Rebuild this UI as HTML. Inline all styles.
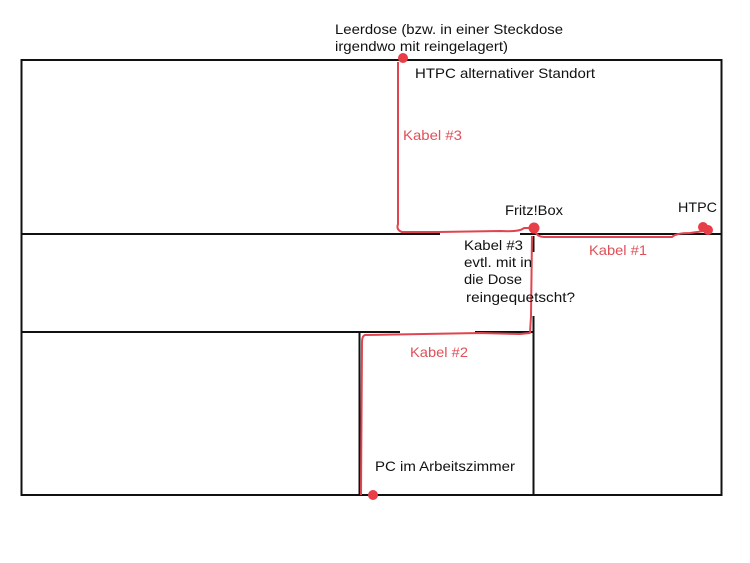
<!DOCTYPE html>
<html><head><meta charset="utf-8"><style>
html,body{margin:0;padding:0;background:#fff;}
svg{display:block;}
text{font-family:"Liberation Sans",Arial,sans-serif;font-size:14px;}
.r{fill:#e05058;}
.b{fill:#111;}
</style></head><body>
<svg width="750" height="563" viewBox="0 0 750 563" xmlns="http://www.w3.org/2000/svg">
<rect width="750" height="563" fill="#fff"/>
<g stroke="#111" stroke-width="2" fill="none">
  <line x1="21" y1="60" x2="722" y2="60"/>
  <line x1="21.5" y1="59" x2="21.5" y2="496"/>
  <line x1="721.5" y1="59" x2="721.5" y2="496"/>
  <line x1="21" y1="495" x2="722" y2="495"/>
  <line x1="21" y1="234" x2="440" y2="234"/>
  <line x1="520" y1="234" x2="722" y2="234"/>
  <line x1="21" y1="332" x2="400" y2="332"/>
  <line x1="475" y1="332" x2="534" y2="332"/>
  <line x1="359.5" y1="331" x2="359.5" y2="496"/>
  <line x1="533.5" y1="316" x2="533.5" y2="496"/>
  <line x1="533.5" y1="236" x2="533.5" y2="252"/>
</g>
<g stroke="#e0454f" stroke-width="2" fill="none" stroke-linejoin="round">
  <path d="M398,62 L398,224 Q396,230 402,232 L438,232 L500,231 Q520,232 524,228 L530,228"/>
  <path d="M535,230 Q536,237 545,237 L672,237 Q676,233 690,233 L704,231"/>
  <path d="M532,236 L531,316 L530,333 L520,334 L480,333 L365,335 Q362,336 362,342 L361,495"/>
</g>
<g fill="#e83e48">
  <circle cx="403" cy="58" r="5"/>
  <circle cx="534" cy="228" r="5.5"/>
  <circle cx="703" cy="227" r="5"/>
  <circle cx="708" cy="230" r="5"/>
  <circle cx="373" cy="495" r="5"/>
</g>
<text x="335" y="34" class="b" textLength="228" lengthAdjust="spacingAndGlyphs">Leerdose (bzw. in einer Steckdose</text>
<text x="335" y="51" class="b" textLength="173" lengthAdjust="spacingAndGlyphs">irgendwo mit reingelagert)</text>
<text x="415" y="78" class="b" textLength="180" lengthAdjust="spacingAndGlyphs">HTPC alternativer Standort</text>
<text x="403" y="140" class="r" textLength="59" lengthAdjust="spacingAndGlyphs">Kabel #3</text>
<text x="505" y="215" class="b" textLength="58" lengthAdjust="spacingAndGlyphs">Fritz!Box</text>
<text x="678" y="212" class="b" textLength="39" lengthAdjust="spacingAndGlyphs">HTPC</text>
<text x="464" y="250" class="b" textLength="59" lengthAdjust="spacingAndGlyphs">Kabel #3</text>
<text x="464" y="267" class="b" textLength="68" lengthAdjust="spacingAndGlyphs">evtl. mit in</text>
<text x="464" y="284" class="b" textLength="58" lengthAdjust="spacingAndGlyphs">die Dose</text>
<text x="466" y="302" class="b" textLength="109" lengthAdjust="spacingAndGlyphs">reingequetscht?</text>
<text x="589" y="255" class="r" textLength="58" lengthAdjust="spacingAndGlyphs">Kabel #1</text>
<text x="410" y="357" class="r" textLength="58" lengthAdjust="spacingAndGlyphs">Kabel #2</text>
<text x="375" y="471" class="b" textLength="140" lengthAdjust="spacingAndGlyphs">PC im Arbeitszimmer</text>
</svg>
</body></html>
